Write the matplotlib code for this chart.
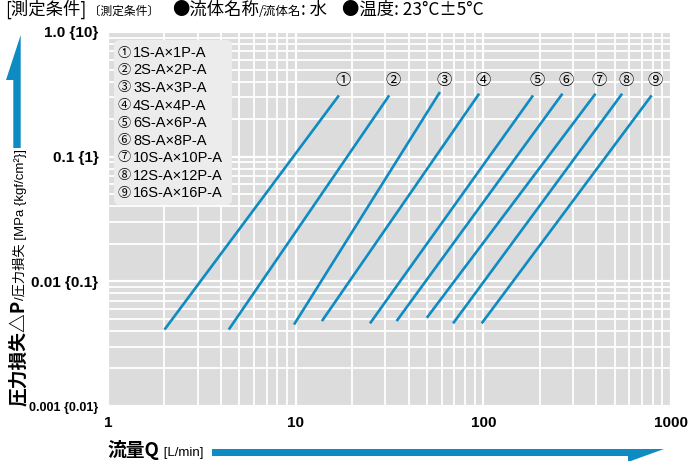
import matplotlib
matplotlib.use("Agg")
import matplotlib.pyplot as plt
from matplotlib import font_manager
from matplotlib.patches import Polygon, FancyBboxPatch
from matplotlib.ticker import LogLocator, NullFormatter

# Data
models = ["1S-A×1P-A", "2S-A×2P-A", "3S-A×3P-A", "4S-A×4P-A", "6S-A×6P-A",
          "8S-A×8P-A", "10S-A×10P-A", "12S-A×12P-A", "16S-A×16P-A"]
marks = ["①", "②", "③", "④", "⑤", "⑥", "⑦", "⑧", "⑨"]
q_low = [2.0, 4.4, 9.8, 13.8, 24.9, 34.5, 50, 69, 98]
q_high = [17, 31.5, 58.7, 95, 184, 264, 396, 549, 788]
dp_low = [0.0041, 0.0041, 0.0045, 0.0048, 0.0046, 0.0048, 0.0051, 0.0046, 0.0046]
dp_high = [0.31, 0.31, 0.33, 0.32, 0.31, 0.32, 0.32, 0.32, 0.31]
ytick_vals = [0.001, 0.01, 0.1, 1.0]
ytick_labels = ["0.001 {0.01}", "0.01 {0.1}", "0.1 {1}", "1.0 {10}"]
xtick_vals = [1, 10, 100, 1000]
xtick_labels = ["1", "10", "100", "1000"]

W, H = 691, 461
BLUE = "#0e8bc3"
BG = "#dcdcdc"
CJK = "Noto Sans CJK JP"
names = {f.name for f in font_manager.fontManager.ttflist}
NARROW = "Liberation Sans Narrow" if "Liberation Sans Narrow" in names else "Liberation Sans"

fig = plt.figure(figsize=(W / 100, H / 100), dpi=100)


def fx(px):
    return px / W


def fy(py):
    return 1 - py / H


ax = fig.add_axes([fx(108), fy(406), (671 - 108) / W, (406 - 32) / H])
ax.set_xscale("log")
ax.set_yscale("log")
ax.set_xlim(1, 1000)
ax.set_ylim(0.001, 1)
ax.set_facecolor(BG)
for s in ax.spines.values():
    s.set_visible(False)
ax.set_axisbelow(True)
ax.xaxis.set_minor_locator(LogLocator(base=10, subs=range(2, 10)))
ax.yaxis.set_minor_locator(LogLocator(base=10, subs=range(2, 10)))
ax.xaxis.set_minor_formatter(NullFormatter())
ax.yaxis.set_minor_formatter(NullFormatter())
ax.grid(True, which="major", color="white", lw=1.6)
ax.grid(True, which="minor", color="white", lw=1.3)
ax.tick_params(which="both", length=0)

ax.set_yticks(ytick_vals)
ax.set_yticklabels(ytick_labels, fontfamily=NARROW, fontweight="bold", fontsize=11)
ax.get_yticklabels()[0].set_fontsize(9)
ax.tick_params(axis="y", pad=7)
ax.set_xticks(xtick_vals)
ax.set_xticklabels(xtick_labels, fontfamily=NARROW, fontweight="bold", fontsize=11)
ax.tick_params(axis="x", pad=7)

for i in range(len(models)):
    ax.plot([q_low[i], q_high[i]], [dp_low[i], dp_high[i]], color=BLUE, lw=1.9,
            solid_capstyle="butt", zorder=3)
    ax.text(q_high[i] * 1.05, 0.41, marks[i], family=CJK, fontsize=11,
            ha="center", va="center", zorder=4)

# legend box
box = FancyBboxPatch((fx(114), fy(205)), (232 - 114) / W, (205 - 40) / H,
                     boxstyle="round,pad=0,rounding_size=0.01",
                     transform=fig.transFigure, facecolor="#ececec",
                     edgecolor="none", zorder=1.5)
ax.add_patch(box)
for i, m in enumerate(models):
    y = 53 + i * 17.5
    ax.text(fx(118), fy(y), marks[i], family=CJK, fontsize=9.5,
            transform=fig.transFigure, ha="left", va="center", zorder=4)
    ax.text(fx(133), fy(y), m, family=NARROW, fontsize=10.5,
            transform=fig.transFigure, ha="left", va="center", zorder=4)

renderer = fig.canvas.get_renderer()


def put_seq(x, y, parts, rotation=0):
    for s, size, fam, weight in parts:
        t = fig.text(fx(x), fy(y), s, fontsize=size, family=fam, fontweight=weight,
                     ha="left", va="baseline", rotation=rotation,
                     rotation_mode="anchor")
        bb = t.get_window_extent(renderer)
        if rotation:
            y -= bb.height
        else:
            x += bb.width


# header
put_seq(5, 15, [("[測定条件]", 12.5, CJK, "normal"),
                (" 〔測定条件〕", 8.5, CJK, "normal")])
put_seq(172, 15, [("●流体名称", 12.5, CJK, "normal"),
                  ("/流体名", 9, CJK, "normal"),
                  (": 水", 12.5, CJK, "normal")])
put_seq(342, 15, [("●温度: 23°C±5°C", 12.5, CJK, "normal")])

# y label + arrow
put_seq(24, 406, [("圧力損失△P", 13.5, CJK, "bold"),
                  ("/圧力損失 [MPa {kgf/cm²}]", 9.5, [NARROW, CJK], "normal")],
        rotation=90)
yarrow = [(13.3, 148), (20.7, 148), (20.7, 35), (6, 80), (13.3, 80)]
fig.patches.append(Polygon([(fx(a), fy(b)) for a, b in yarrow], closed=True,
                           transform=fig.transFigure, facecolor=BLUE, edgecolor="none"))

# x label + arrow
put_seq(108, 456, [("流量Q", 13.5, CJK, "bold"),
                   (" [L/min]", 9.5, NARROW, "normal")])
xarrow = [(212, 449), (664, 449), (628, 462), (628, 456), (212, 456)]
fig.patches.append(Polygon([(fx(a), fy(b)) for a, b in xarrow], closed=True,
                           transform=fig.transFigure, facecolor=BLUE, edgecolor="none"))

fig.savefig("out.png", dpi=100)
